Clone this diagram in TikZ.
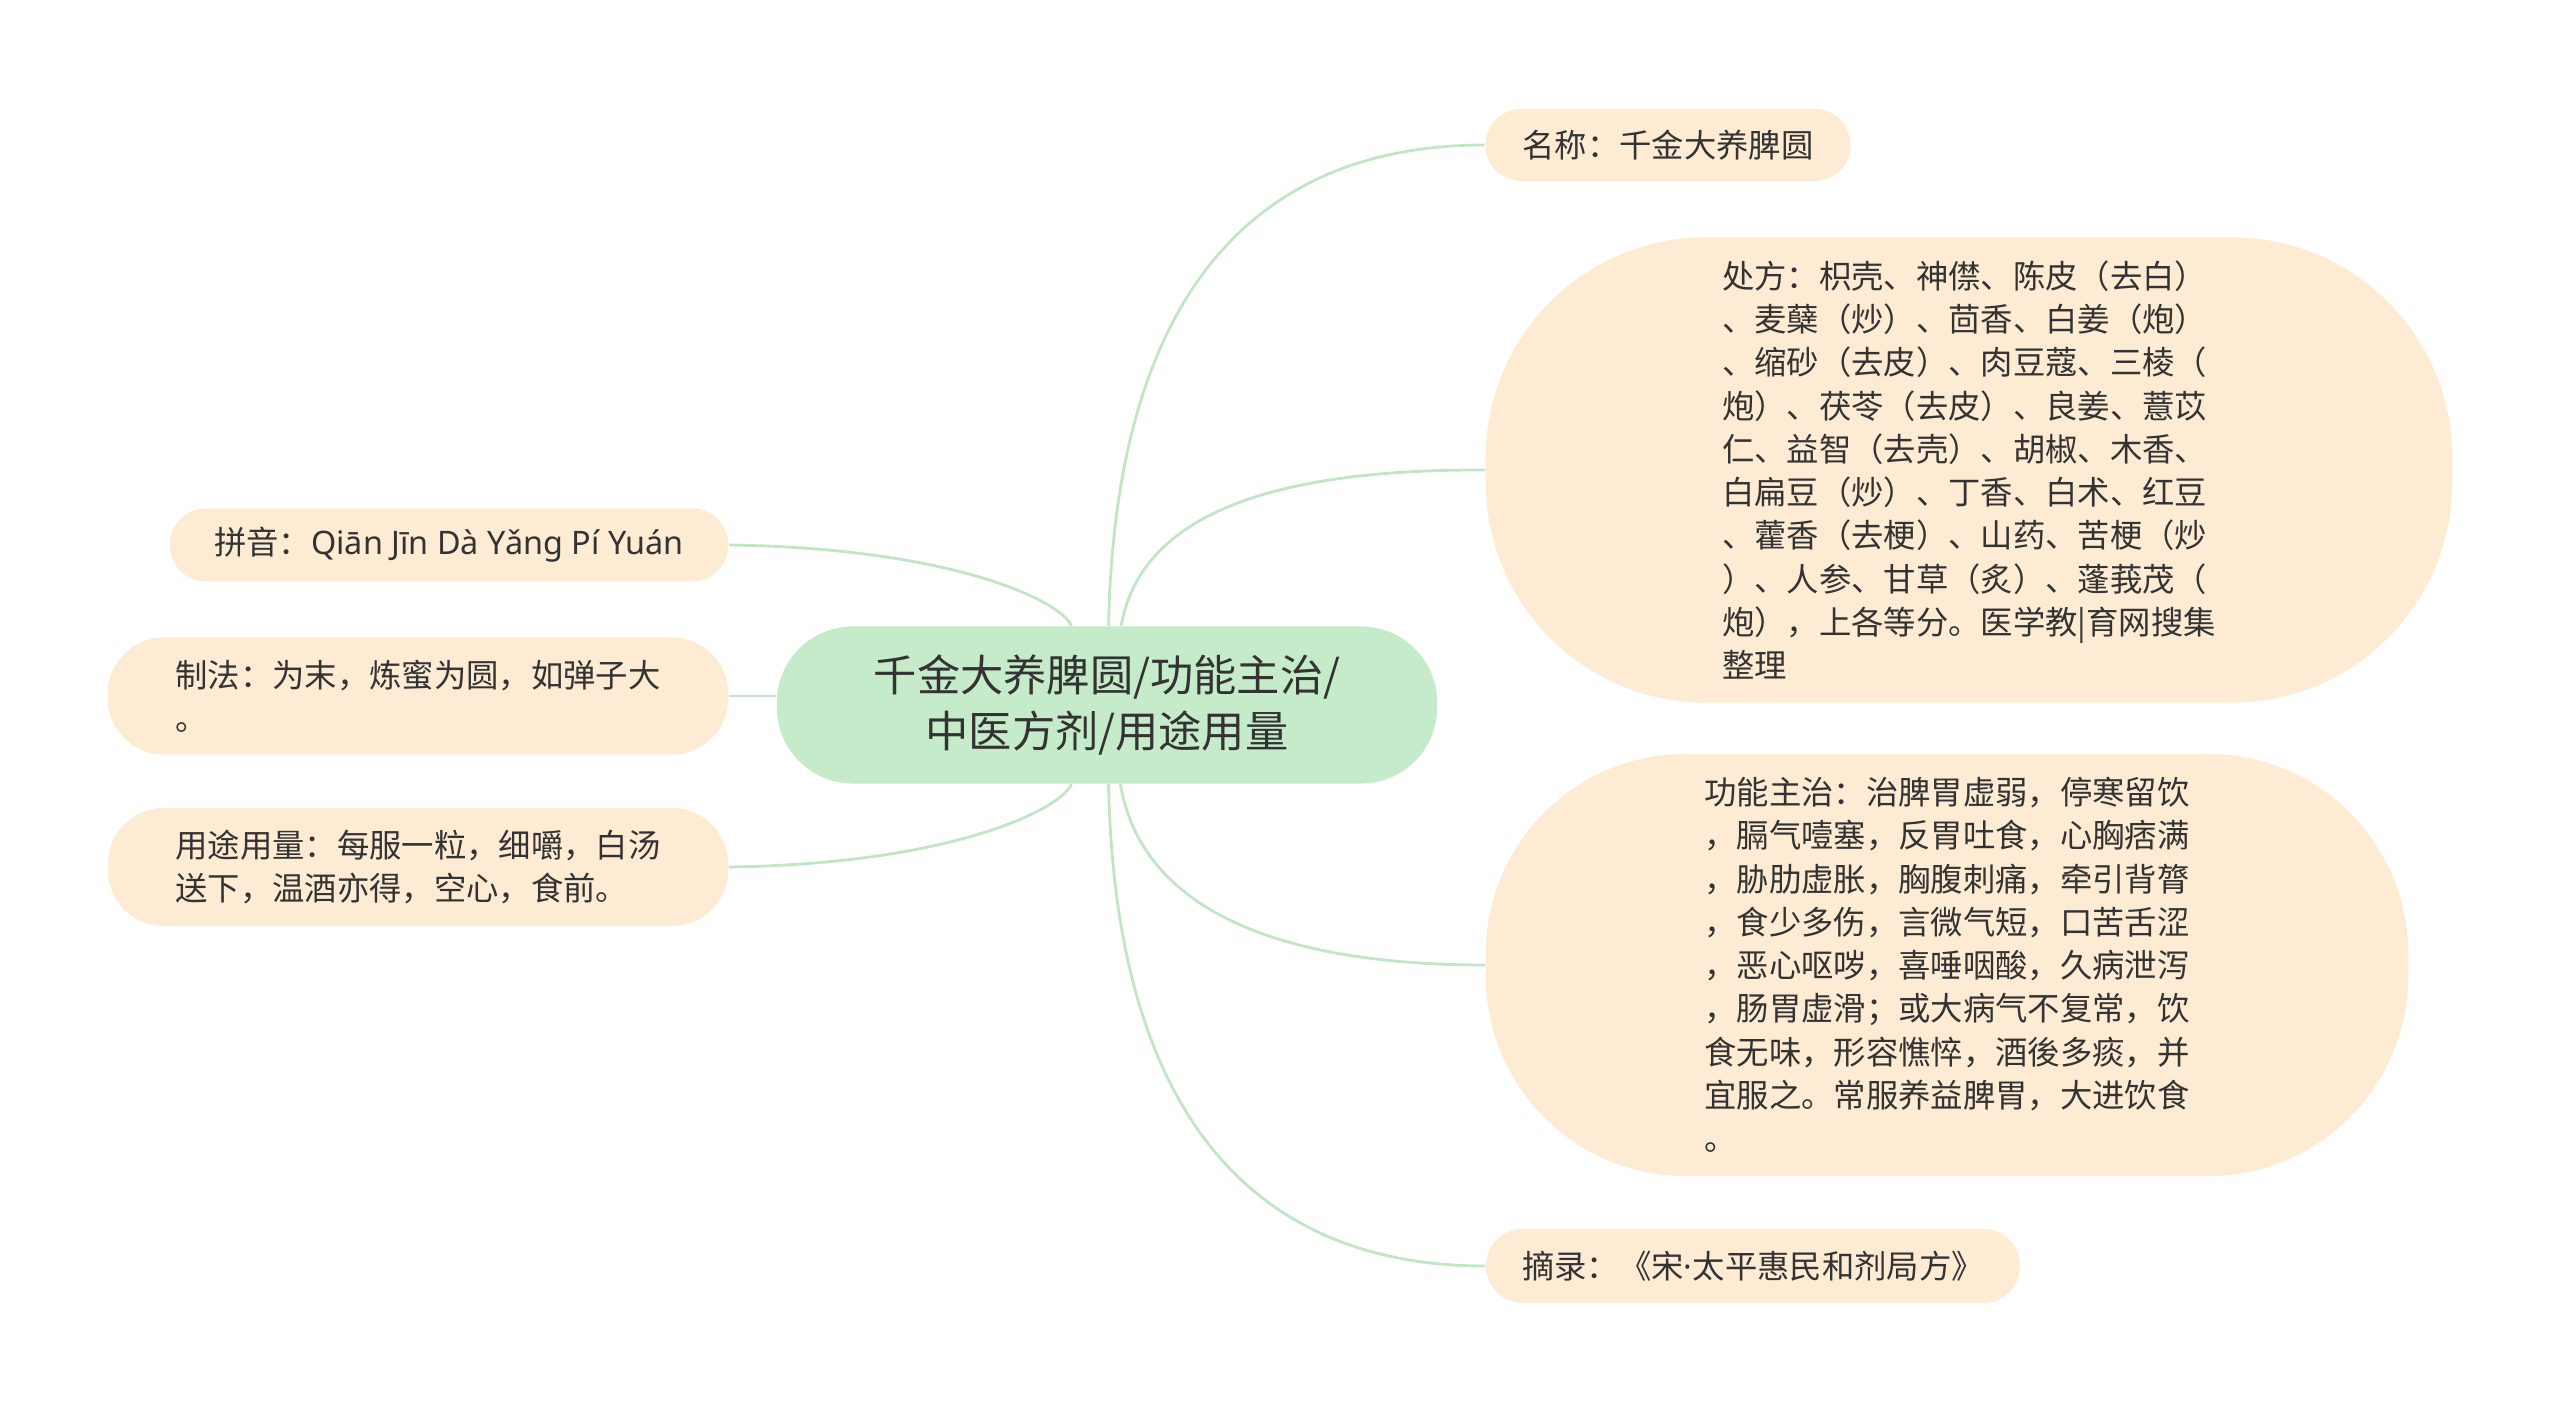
\documentclass[tikz,border=0pt]{standalone}
\usepackage{fontspec}
\setmainfont{Noto Sans CJK SC}
\newfontfamily\latinfont{Noto Sans}
\usepackage{tikz}
\usetikzlibrary{shapes,arrows,positioning}
\definecolor{leaffill}{HTML}{FDEBD4}
\definecolor{rootfill}{HTML}{C6EBCA}
\definecolor{linkgreen}{HTML}{C2E5C6}
\definecolor{ink}{HTML}{333333}
\tikzstyle{root} = [rectangle, fill=rootfill, text=ink, align=center, rounded corners=0.76cm, minimum width=6.6cm, minimum height=1.57cm, font=\fontsize{12.3}{16.2}\selectfont]
\tikzstyle{leaf} = [rectangle, fill=leaffill, text=ink, align=left, inner sep=0pt, font=\fontsize{9.2}{12.3}\selectfont]
\tikzstyle{line} = [draw, color=linkgreen, line width=0.8pt]

\begin{document}
\begin{tikzpicture}[x=0.01cm, y=-0.01cm]
	\useasboundingbox (0,0) rectangle (2560,1413);
	\node [root] (root) at (1107,705) {千金大养脾圆/功能主治/\\中医方剂/用途用量};

	\node [leaf, minimum width=3.65cm, minimum height=0.72cm, rounded corners=0.36cm] (name) at (1668,145) {名称：千金大养脾圆};
	\node [leaf, minimum width=9.66cm, minimum height=4.65cm, rounded corners=2.2cm] (recipe) at (1969,470) {处方：枳壳、神僸、陈皮（去白）\\、麦蘖（炒）、茴香、白姜（炮）\\、缩砂（去皮）、肉豆蔻、三棱（\\炮）、茯苓（去皮）、良姜、薏苡\\仁、益智（去壳）、胡椒、木香、\\白扁豆（炒）、丁香、白术、红豆\\、藿香（去梗）、山药、苦梗（炒\\）、人参、甘草（炙）、蓬莪茂（\\炮），上各等分。医学教|育网搜集\\整理};
	\node [leaf, minimum width=9.22cm, minimum height=4.22cm, rounded corners=2.0cm] (effect) at (1947,965) {功能主治：治脾胃虚弱，停寒留饮\\，膈气噎塞，反胃吐食，心胸痞满\\，胁肋虚胀，胸腹刺痛，牵引背膂\\，食少多伤，言微气短，口苦舌涩\\，恶心呕哕，喜唾咽酸，久病泄泻\\，肠胃虚滑；或大病气不复常，饮\\食无味，形容憔悴，酒後多痰，并\\宜服之。常服养益脾胃，大进饮食\\。};
	\node [leaf, minimum width=5.34cm, minimum height=0.74cm, rounded corners=0.37cm] (source) at (1753,1266) {摘录：《宋{\latinfont ·}太平惠民和剂局方》};

	\node [leaf, minimum width=5.58cm, minimum height=0.73cm, rounded corners=0.36cm] (pinyin) at (449,545) {拼音：{\latinfont Qiān Jīn Dà Yǎng Pí Yuán}};
	\node [leaf, minimum width=6.2cm, minimum height=1.17cm, rounded corners=0.56cm] (method) at (418,696) {制法：为末，炼蜜为圆，如弹子大\\。};
	\node [leaf, minimum width=6.2cm, minimum height=1.18cm, rounded corners=0.56cm] (usage) at (418,867) {用途用量：每服一粒，细嚼，白汤\\送下，温酒亦得，空心，食前。};

	\path [line] (root) .. controls (1115,300) and (1250,145) .. (name.west);
	\path [line] (root) .. controls (1140,520) and (1260,469) .. (recipe.west);
	\path [line] (root) .. controls (1140,900) and (1260,965) .. (effect.west);
	\path [line] (root) .. controls (1115,1110) and (1250,1266) .. (source.west);
	\path [line] (root) .. controls (1060,600) and (950,548) .. (pinyin.east);
	\path [line] (method.east) -- (method.east -| root.west);
	\path [line] (root) .. controls (1060,810) and (950,864) .. (usage.east);
\end{tikzpicture}
\end{document}
